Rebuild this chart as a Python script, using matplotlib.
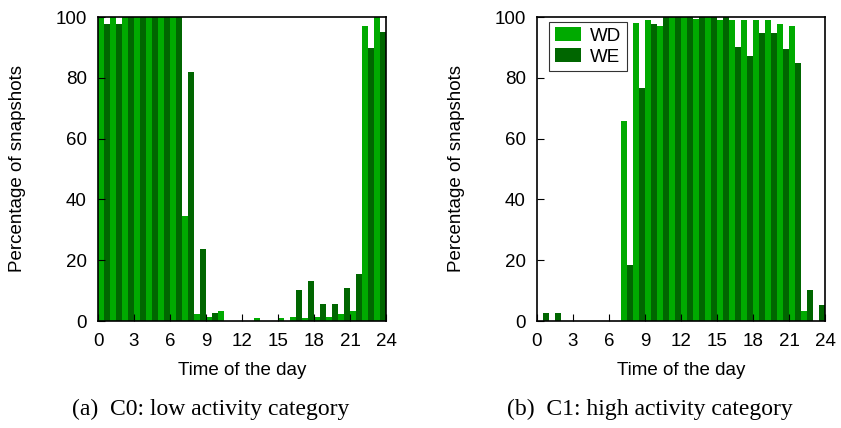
import numpy as np
import matplotlib
matplotlib.use("Agg")
import matplotlib.pyplot as plt

# hourly share of snapshots (%), weekday (WD) vs weekend (WE)
hours = np.arange(24)
c0_wd = [100, 100, 100, 100, 100, 100, 100, 34.4, 2.2, 1.3, 3.2, 0,
         0, 1.1, 0, 1.1, 1.3, 1.1, 1.3, 1.3, 2.2, 3.3, 97.1, 100]
c0_we = [97.6, 97.6, 100, 100, 100, 100, 100, 81.8, 23.7, 2.6, 0, 0,
         0, 0, 0, 0, 10.1, 13.2, 5.6, 5.6, 11.0, 15.5, 89.8, 95.0]
c1_wd = [0, 0, 0, 0, 0, 0, 0, 65.7, 98.0, 98.9, 96.9, 100,
         100, 99.2, 100, 99.1, 98.9, 98.9, 98.9, 98.9, 97.8, 96.9, 3.2, 0]
c1_we = [2.6, 2.6, 0, 0, 0, 0, 0, 18.4, 76.5, 97.6, 100, 100,
         100, 100, 100, 100, 90.1, 87.1, 94.6, 94.6, 89.4, 84.8, 10.1, 5.3]
captions = ["(a)  C0: low activity category", "(b)  C1: high activity category"]

wd_color = "#00aa00"
we_color = "#006600"

plt.rcParams["font.family"] = ["Liberation Sans", "DejaVu Sans"]
fig = plt.figure(figsize=(8.41, 4.28), dpi=100)

panels = [(c0_wd, c0_we), (c1_wd, c1_we)]
lefts = [98 / 841, 537 / 841]
caption_x = [211 / 841, 650 / 841]
for i, (wd, we) in enumerate(panels):
    ax = fig.add_axes([lefts[i], 107 / 428, 288 / 841, 304 / 428])
    ax.bar(hours, wd, width=0.5, align="edge", color=wd_color, label="WD")
    ax.bar(hours + 0.5, we, width=0.5, align="edge", color=we_color, label="WE")
    ax.set_xlim(0, 24)
    ax.set_ylim(0, 100)
    ax.set_xticks(range(0, 25, 3))
    ax.set_yticks(range(0, 101, 20))
    ax.tick_params(direction="in", length=5, width=0.8, labelsize=13.5)
    ax.tick_params(axis="x", pad=9)
    ax.tick_params(axis="y", pad=8)
    for s in ax.spines.values():
        s.set_linewidth(1.2)
    ax.set_xlabel("Time of the day", fontsize=13.5, labelpad=8)
    ax.set_ylabel("Percentage of snapshots", fontsize=13.5, labelpad=21)
    fig.text(caption_x[i], 19 / 428, captions[i], ha="center", va="center",
             fontsize=17, family=["Liberation Serif", "DejaVu Serif"])
    if i == 1:
        leg = ax.legend(loc="upper left", fontsize=13.5, frameon=True, fancybox=False,
                        handlelength=1.4, handleheight=0.75, handletextpad=0.5,
                        borderpad=0.3, labelspacing=0.2, borderaxespad=0,
                        bbox_to_anchor=(0.042, 0.985))
        leg.get_frame().set_edgecolor("black")
        leg.get_frame().set_linewidth(0.8)

fig.savefig("out.png", dpi=100)
